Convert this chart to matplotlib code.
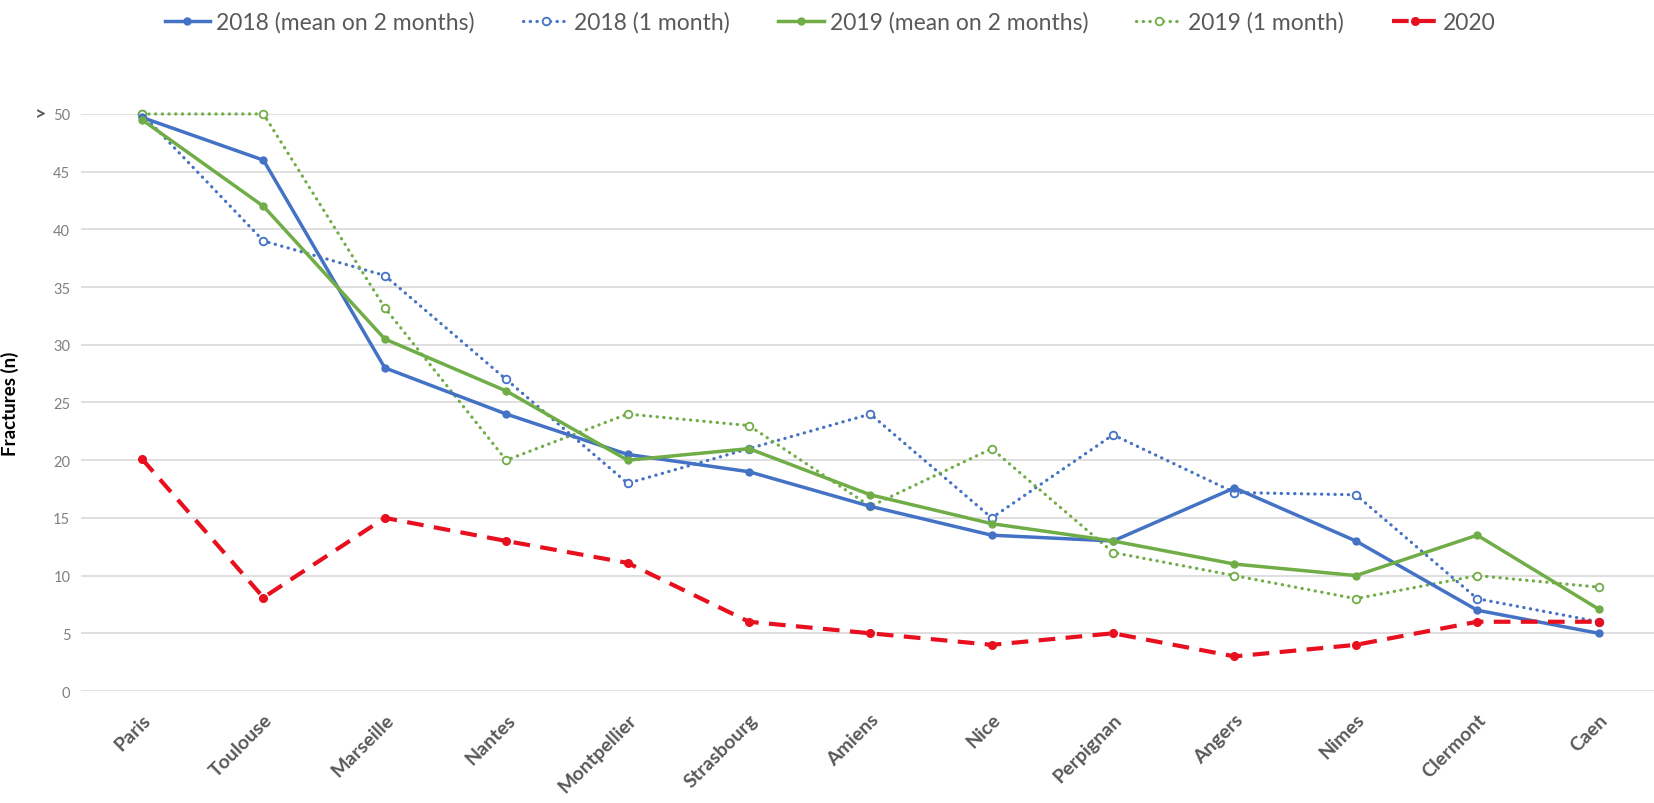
import matplotlib
matplotlib.use("Agg")
from matplotlib import pyplot as plt
import numpy as np

# data
cities = ['Paris', 'Toulouse', 'Marseille', 'Nantes', 'Montpellier', 'Strasbourg',
          'Amiens', 'Nice', 'Perpignan', 'Angers', 'Nimes', 'Clermont', 'Caen']
mean_2018 = [49.7, 46, 28, 24, 20.5, 19, 16, 13.5, 13, 17.6, 13, 7, 5]
month_2018 = [50, 39, 36, 27, 18, 21, 24, 15, 22.2, 17.2, 17, 8, 6]
mean_2019 = [49.5, 42, 30.5, 26, 20, 21, 17, 14.5, 13, 11, 10, 13.5, 7.1]
month_2019 = [50, 50, 33.2, 20, 24, 23, 16, 21, 12, 10, 8, 10, 9]
y_2020 = [20.1, 8.1, 15, 13, 11.1, 6, 5, 4, 5, 3, 4, 6, 6]

blue = '#4472C4'
green = '#70AD47'
red = '#E8101E'
grey = '#595959'

plt.rcParams['font.family'] = ['Lato', 'DejaVu Sans']

fig = plt.figure(figsize=(16.54, 8.04), dpi=100)
ax = fig.add_axes([0.0492, 0.1393, 0.954, 0.7177])

x = np.arange(len(cities))
dots = (0, (0.1, 2.0))

ax.plot(x, mean_2018, color=blue, lw=2.5, marker='o', ms=5,
        label='2018 (mean on 2 months)', clip_on=False, zorder=4)
ax.plot(x, month_2018, color=blue, lw=2.3, ls=dots, marker='o', ms=5.5,
        mfc='white', mew=1.3, dash_capstyle='round',
        label='2018 (1 month)', clip_on=False, zorder=3)
ax.plot(x, mean_2019, color=green, lw=2.5, marker='o', ms=5,
        label='2019 (mean on 2 months)', clip_on=False, zorder=4)
ax.plot(x, month_2019, color=green, lw=2.3, ls=dots, marker='o', ms=5.5,
        mfc='white', mew=1.3, dash_capstyle='round',
        label='2019 (1 month)', clip_on=False, zorder=3)
ax.plot(x, y_2020, color=red, lw=3, ls=(0, (4, 2.5)), marker='o', ms=5.5,
        label='2020', clip_on=False, zorder=5)

ax.set_xlim(-0.5, len(cities) - 0.5)
ax.set_ylim(0, 50)
ax.set_yticks(range(0, 51, 5))
ax.yaxis.grid(True, color='#D9D9D9', lw=1.2)
ax.set_axisbelow(True)
for s in ax.spines.values():
    s.set_visible(False)
ax.tick_params(axis='both', length=0)
ax.tick_params(axis='y', labelsize=10.5, labelcolor='#7F7F7F', pad=8)

ax.set_xticks(x)
ax.set_xticklabels(cities, rotation=45, ha='right', rotation_mode='anchor',
                   fontsize=14, fontweight='bold', color=grey)
ax.tick_params(axis='x', pad=14)

# the "> 50" mark on the top tick
ax.text(-0.026, 50, '>', transform=ax.get_yaxis_transform(), ha='center', va='center',
        fontsize=14, fontweight='bold', color=grey)

ax.set_ylabel('Fractures (n)', fontsize=13.5, fontweight='bold', color='black')
ax.yaxis.set_label_coords(-0.0395, 0.5)

leg = fig.legend(loc='center', bbox_to_anchor=(0.502, 0.971), ncol=5, frameon=False,
                 fontsize=16.5, handlelength=2.0, columnspacing=2.1, handletextpad=0.25)
for t in leg.get_texts():
    t.set_color(grey)

fig.savefig('out.png', dpi=100)
